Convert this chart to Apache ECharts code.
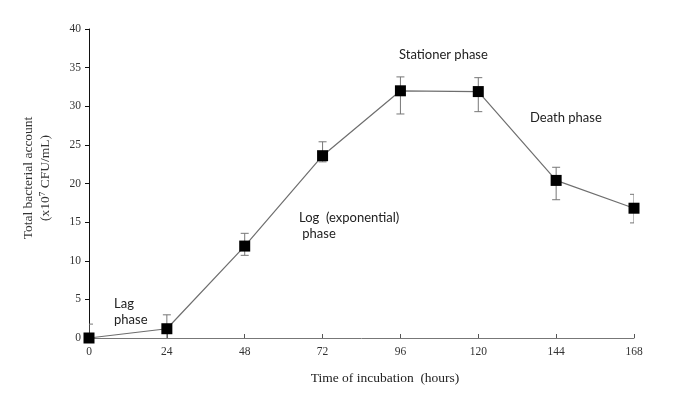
<!DOCTYPE html>
<html><head><meta charset="utf-8">
<script src="https://cdn.jsdelivr.net/npm/echarts@6/dist/echarts.min.js"></script>
<style>html,body{margin:0;padding:0;background:#fff}#c{width:700px;height:395px}</style>
</head><body><div id="c"></div>
<script>
const hours = [0, 24, 48, 72, 96, 120, 144, 168];
const counts = [0, 1.2, 11.9, 23.6, 32.0, 31.9, 20.4, 16.8];
const errHigh = [1.8, 3.0, 13.55, 25.4, 33.8, 33.7, 22.1, 18.6];
const errLow = [-1.8, -0.6, 10.7, 22.8, 29.0, 29.3, 17.9, 14.9];
const xTicks = [0, 24, 48, 72, 96, 120, 144, 168];
const yTicks = [0, 5, 10, 15, 20, 25, 30, 35, 40];

const serif = '"Liberation Serif", "Times New Roman", serif';
const sans = 'Lato, "Open Sans", sans-serif';

const chart = echarts.init(document.getElementById('c'), null, {renderer: 'canvas'});
const lineData = hours.map((h, i) => [h, counts[i]]);
const errData = hours.map((h, i) => [h, errLow[i], errHigh[i]]);

chart.setOption({
  animation: false,
  backgroundColor: '#fff',
  grid: {left: 89, right: 66, top: 29, bottom: 57, containLabel: false},
  xAxis: {
    type: 'value', min: 0, max: 168, interval: 24,
    axisLine: {show: true, lineStyle: {color: '#777', width: 1}},
    axisTick: {show: true, inside: true, length: 4, lineStyle: {color: '#555'}},
    axisLabel: {fontFamily: serif, fontSize: 11.5, color: '#333', margin: 8,
      formatter: v => xTicks.includes(v) ? String(v) : ''},
    splitLine: {show: false}
  },
  yAxis: {
    type: 'value', min: 0, max: 40, interval: 5,
    axisLine: {show: true, lineStyle: {color: '#111', width: 1}},
    axisTick: {show: true, inside: false, length: 4, lineStyle: {color: '#111'}},
    axisLabel: {fontFamily: serif, fontSize: 11.5, color: '#333', margin: 8,
      formatter: v => yTicks.includes(v) ? String(v) : ''},
    splitLine: {show: false}
  },
  series: [
    {
      type: 'custom',
      clip: true,
      z: 1,
      data: errData,
      renderItem: function (params, api) {
        const x = api.value(0);
        const lo = api.coord([x, api.value(1)]);
        const hi = api.coord([x, api.value(2)]);
        const w = 4;
        const style = {stroke: '#777', lineWidth: 1};
        return {
          type: 'group',
          children: [
            {type: 'line', shape: {x1: lo[0], y1: lo[1], x2: hi[0], y2: hi[1]}, style},
            {type: 'line', shape: {x1: hi[0] - w, y1: hi[1], x2: hi[0] + w, y2: hi[1]}, style},
            {type: 'line', shape: {x1: lo[0] - w, y1: lo[1], x2: lo[0] + w, y2: lo[1]}, style}
          ]
        };
      }
    },
    {
      type: 'line',
      z: 3,
      data: lineData,
      symbol: 'rect',
      symbolSize: 11,
      itemStyle: {color: '#000'},
      lineStyle: {color: '#6e6e6e', width: 1.2},
      clip: false
    }
  ],
  graphic: [
    {type: 'text', left: 114, top: 296, style: {text: 'Lag\nphase', font: '13px ' + sans, fill: '#222', lineHeight: 16}},
    {type: 'text', left: 299, top: 210, style: {text: 'Log  (exponential)\n phase', font: '13px ' + sans, fill: '#222', lineHeight: 16}},
    {type: 'text', left: 399, top: 48, style: {text: 'Stationer phase', font: '13px ' + sans, fill: '#222'}},
    {type: 'text', left: 530, top: 111, style: {text: 'Death phase', font: '13px ' + sans, fill: '#222'}},
    {type: 'text', x: 385, y: 378, style: {text: 'Time of incubation  (hours)', font: '13.5px ' + serif, fill: '#222', align: 'center', verticalAlign: 'middle'}},
    {type: 'text', x: 28, y: 178, rotation: Math.PI / 2, style: {text: 'Total bacterial account', font: '13.5px ' + serif, fill: '#333', align: 'center', verticalAlign: 'middle'}},
    {type: 'text', x: 45, y: 178, rotation: Math.PI / 2, style: {text: '(x10⁷ CFU/mL)', font: '13.5px ' + serif, fill: '#333', align: 'center', verticalAlign: 'middle'}}
  ]
});
</script></body></html>
